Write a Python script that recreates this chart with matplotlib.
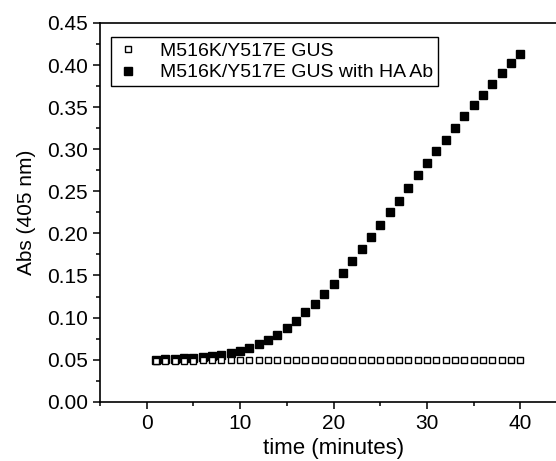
import matplotlib
matplotlib.use("Agg")
import matplotlib.pyplot as plt
from matplotlib.ticker import MultipleLocator

plt.rcParams['font.family'] = ['Liberation Sans', 'DejaVu Sans']

time = list(range(1, 41))
gus = [0.048, 0.048, 0.048, 0.048, 0.048, 0.049, 0.049, 0.049, 0.049, 0.049,
       0.049, 0.049, 0.049, 0.049, 0.049, 0.049, 0.049, 0.049, 0.049, 0.049,
       0.049, 0.049, 0.049, 0.049, 0.049, 0.049, 0.049, 0.049, 0.049, 0.049,
       0.049, 0.049, 0.049, 0.049, 0.049, 0.049, 0.049, 0.049, 0.049, 0.049]
gus_ha = [0.050, 0.051, 0.051, 0.052, 0.052, 0.053, 0.054, 0.056, 0.058, 0.060,
          0.064, 0.068, 0.073, 0.079, 0.087, 0.096, 0.106, 0.116, 0.128, 0.140,
          0.153, 0.167, 0.181, 0.196, 0.210, 0.225, 0.239, 0.254, 0.269, 0.284,
          0.298, 0.311, 0.325, 0.339, 0.352, 0.365, 0.377, 0.390, 0.402, 0.413]
labels = ["M516K/Y517E GUS", "M516K/Y517E GUS with HA Ab"]

fig = plt.figure(figsize=(5.56, 4.61), dpi=100)
ax = fig.add_axes([100/556, 1-401.7/461, 467/556, (401.7-23)/461])

h2, = ax.plot(time, gus_ha, 's', color='black', markersize=5.8, label=labels[1], zorder=2)
h1, = ax.plot(time, gus, 's', markerfacecolor='white', markeredgecolor='black',
              markersize=4.6, markeredgewidth=1.0, label=labels[0], zorder=3)

ax.set_xlim(-5, 45)
ax.set_ylim(0, 0.45)
ax.xaxis.set_major_locator(MultipleLocator(10))
ax.xaxis.set_minor_locator(MultipleLocator(5))
ax.yaxis.set_major_locator(MultipleLocator(0.05))
ax.yaxis.set_minor_locator(MultipleLocator(0.025))
ax.yaxis.set_major_formatter(plt.FuncFormatter(lambda v, p: f"{v:.2f}"))
ax.tick_params(which='both', direction='out', width=1.1, labelsize=15, top=False, right=False)
ax.tick_params(which='major', length=5)
ax.tick_params(which='minor', length=3)
for s in ax.spines.values():
    s.set_linewidth(1.2)

ax.set_xlabel("time (minutes)", fontsize=16, labelpad=4)
ax.set_ylabel("Abs (405 nm)", fontsize=15, labelpad=8)

leg = ax.legend([h1, h2], labels, loc='upper left', bbox_to_anchor=(0.023, 0.962),
                borderaxespad=0, fancybox=False, edgecolor='black', framealpha=1,
                fontsize=14, handlelength=1.3, handletextpad=1.0, borderpad=0.25,
                labelspacing=0.2)
leg.get_frame().set_linewidth(1.0)

fig.savefig("out.png", dpi=100)
